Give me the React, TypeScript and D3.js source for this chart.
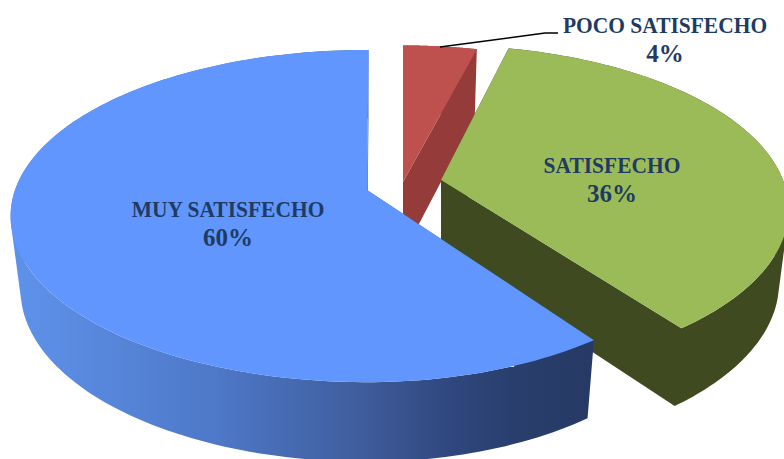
import React from "react";
import * as d3 from "d3";

const categories = ["MUY SATISFECHO", "SATISFECHO", "POCO SATISFECHO"];
const values = [60, 36, 4];
const percentLabels = ["60%", "36%", "4%"];
const topColors = ["#6096fd", "#9bbb59", "#be504d"];

const W = 784, H = 459;
const RAD = Math.PI / 180;

type Layout = { ax: number; ay: number; AL: number; AR: number; B: number; K: number; nudgeStart: number; nudgeEnd: number };
// layout per slice: apex on screen, radii, perspective, small angle corrections (deg)
const layouts: Layout[] = [
  { ax: 367, ay: 190, AL: 352, AR: 337, B: 162, K: 0.157, nudgeStart: 0, nudgeEnd: 0.3 },
  { ax: 441, ay: 180, AL: 342, AR: 342, B: 159, K: 0.18, nudgeStart: -1, nudgeEnd: -1 },
  { ax: 403, ay: 182, AL: 342, AR: 342, B: 158, K: 0.157, nudgeStart: 0, nudgeEnd: 0 },
];
const labelPos = [
  { x: 228, y: 217 },
  { x: 612, y: 173 },
  { x: 665, y: 33 },
];

function project(theta: number, L: Layout): [number, number] {
  const u = Math.sin(theta), v = -Math.cos(theta), w = 1 - L.K * v;
  return [L.ax + ((u < 0 ? L.AL : L.AR) * u) / w, L.ay + (L.B * v) / w];
}
const depth = ([x, y]: [number, number], ax: number): [number, number] => [
  ax + (x - ax) * 0.972,
  y + 68 + 0.035 * (y - 50),
];

const arcsRaw = d3.pie<number>().sort(null).value((d) => d)(values);
const sweep = arcsRaw.map((a) => a.endAngle - a.startAngle);
// clockwise from 12 o'clock: small slice, then middle slice, then the large one up to the top
const spans = [
  [sweep[2] + sweep[1], sweep[2] + sweep[1] + sweep[0]],
  [sweep[2], sweep[2] + sweep[1]],
  [0, sweep[2]],
];

const line = d3.line<[number, number]>();

function slice(i: number) {
  const L = layouts[i];
  const a0 = spans[i][0] + L.nudgeStart * RAD;
  const a1 = spans[i][1] + L.nudgeEnd * RAD;
  const n = 160;
  const rim = d3.range(n + 1).map((k) => project(a0 + ((a1 - a0) * k) / n, L));
  const outline: [number, number][] = [[L.ax, L.ay], ...rim];
  const closed = [...outline, outline[0]];
  // one path of consistently wound quads: non-zero fill gives their union, with no seams
  const side = d3
    .range(closed.length - 1)
    .map((k) => {
      const p = closed[k], q = closed[k + 1];
      const quad: [number, number][] = [p, q, depth(q, L.ax), depth(p, L.ax)];
      if (d3.polygonArea(quad) < 0) quad.reverse();
      return line(quad) + "Z";
    })
    .join("");
  return { top: line(outline) + "Z", side };
}

const sideFill = ["url(#blueSide)", "#3f4a20", "#953c3a"];
const drawOrder = [2, 1, 0];

export default function App() {
  return (
    <svg
      width={W}
      height={H}
      viewBox={`0 0 ${W} ${H}`}
      style={{ position: "absolute", left: 0, top: 0, background: "#fff" }}
    >
      <defs>
        <linearGradient id="blueSide" gradientUnits="userSpaceOnUse" x1={15} y1={0} x2={590} y2={0}>
          <stop offset="0" stopColor="#5e92ea" />
          <stop offset="0.35" stopColor="#4e78c8" />
          <stop offset="0.6" stopColor="#3f5d9c" />
          <stop offset="0.75" stopColor="#304880" />
          <stop offset="0.87" stopColor="#293e6c" />
          <stop offset="1" stopColor="#273a66" />
        </linearGradient>
      </defs>
      {drawOrder.map((i) => {
        const s = slice(i);
        return (
          <g key={categories[i]}>
            <path d={s.side} fill={sideFill[i]} fillRule="nonzero" />
            <path d={s.top} fill={topColors[i]} />
          </g>
        );
      })}
      <path d="M440,47L545,33L558,33" fill="none" stroke="#000" strokeWidth={1.5} />
      {categories.map((c, i) => (
        <g
          key={c}
          fill="#1f3b63"
          fontFamily="'Liberation Serif', serif"
          fontWeight="bold"
          textAnchor="middle"
        >
          <text transform={`translate(${labelPos[i].x},${labelPos[i].y}) scale(0.895,1)`} fontSize={24}>{c}</text>
          <text x={labelPos[i].x} y={labelPos[i].y + 29} fontSize={25}>{percentLabels[i]}</text>
        </g>
      ))}
    </svg>
  );
}
